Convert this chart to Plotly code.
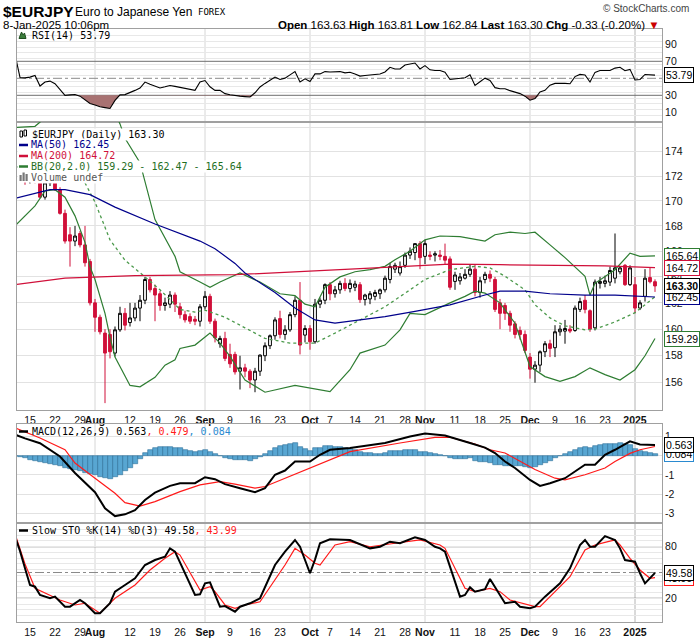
import math
import pandas as pd
import plotly.graph_objects as go
from plotly.subplots import make_subplots

# ---------------- calendar (FX weekdays, Dec-25 / Jan-1 closed); day 0 = 2024-07-11
cal = [d for d in pd.bdate_range("2024-07-10", "2025-01-08")
       if d.strftime("%m-%d") not in ("12-25", "01-01")]
day_num = {d.strftime("%Y-%m-%d"): i - 1 for i, d in enumerate(cal)}

tick_dates = ["2024-07-15", "2024-07-22", "2024-07-29", "2024-08-01", "2024-08-12", "2024-08-19",
              "2024-08-26", "2024-09-02", "2024-09-09", "2024-09-16", "2024-09-23", "2024-10-01",
              "2024-10-07", "2024-10-14", "2024-10-21", "2024-10-28", "2024-11-01", "2024-11-11",
              "2024-11-18", "2024-11-25", "2024-12-02", "2024-12-09", "2024-12-16", "2024-12-23",
              "2025-01-02"]
tick_labels = ["15", "22", "29", "Aug", "12", "19", "26", "Sep", "9", "16", "23", "Oct", "7", "14",
               "21", "28", "Nov", "11", "18", "25", "Dec", "9", "16", "23", "2025"]
month_dates = ["2024-08-01", "2024-09-02", "2024-10-01", "2024-11-01", "2024-12-02", "2025-01-02"]

# ---------------- daily candles (2024-07-11 .. 2025-01-08)
opens = [173.6, 172.4, 171.8, 172.1, 171.5, 170.3, 171.45, 171.5, 170.9, 169.0,
         167.3, 166.8, 167.4, 166.5, 165.2, 162.0, 160.9, 159.7, 159.6, 158.2,
         159.95, 161.2, 160.5, 160.85, 161.6, 162.2, 163.8, 163.1, 162.7, 161.8,
         161.9, 162.6, 161.7, 161.1, 160.95, 160.75, 160.6, 161.7, 162.5, 160.6,
         158.9, 159.3, 158.1, 158.1, 156.85, 157.1, 156.85, 156.2, 156.85, 158.0,
         158.75, 159.5, 160.8, 159.6, 159.95, 161.1, 162.2, 159.55, 160.05, 159.05,
         161.9, 162.2, 163.4, 162.7, 163.0, 163.5, 163.1, 163.2, 163.4, 162.25,
         162.3, 162.5, 162.7, 163.0, 163.8, 164.6, 164.3, 164.9, 165.7, 165.9,
         166.6, 165.6, 165.7, 165.7, 165.7, 165.6, 165.4, 163.65, 163.7, 163.9,
         164.2, 164.6, 162.8, 163.8, 164.2, 163.8, 162.0, 161.8, 161.2, 160.4,
         159.9, 159.6, 157.9, 157.0, 157.3, 158.3, 158.9, 158.6, 159.8, 159.85,
         160.0, 159.9, 161.5, 162.2, 161.4, 160.1, 163.5, 163.5, 163.6, 163.9,
         164.4, 164.9, 163.4, 163.4, 161.6, 162.5, 163.95, 163.63]
highs = [174.6, 172.8, 172.4, 172.5, 171.9, 171.8, 171.9, 171.8, 171.1, 169.3,
         167.9, 168.0, 167.6, 168.0, 165.4, 162.3, 161.1, 160.0, 160.0, 160.2,
         161.7, 161.6, 162.0, 162.0, 162.6, 164.0, 164.0, 163.4, 162.9, 162.4,
         162.9, 162.8, 162.0, 161.4, 161.2, 161.0, 161.9, 162.9, 162.7, 160.8,
         159.5, 159.8, 158.9, 158.3, 158.0, 157.4, 157.0, 157.1, 158.1, 159.0,
         159.6, 160.9, 161.4, 160.3, 161.3, 162.5, 163.6, 160.3, 160.3, 162.3,
         162.4, 163.5, 163.6, 163.3, 163.7, 163.9, 163.8, 163.7, 163.6, 162.7,
         162.9, 163.0, 163.1, 164.1, 165.1, 165.1, 165.2, 165.9, 166.3, 166.6,
         166.8, 166.9, 166.0, 166.0, 166.1, 166.6, 165.6, 164.4, 164.3, 164.6,
         165.0, 165.0, 164.0, 164.4, 164.5, 164.0, 162.3, 162.0, 161.4, 160.6,
         160.2, 159.9, 158.2, 157.6, 158.4, 159.1, 159.2, 160.3, 160.3, 160.7,
         160.3, 161.8, 162.4, 162.6, 161.5, 163.8, 164.0, 164.1, 164.8, 167.4,
         164.8, 165.0, 164.9, 164.0, 162.2, 164.6, 164.7, 163.81]
lows = [172.0, 171.3, 171.4, 171.4, 170.2, 170.1, 171.2, 170.8, 168.9, 166.6,
        164.8, 166.4, 166.3, 164.8, 161.8, 159.8, 159.6, 154.5, 157.8, 157.95,
        159.8, 159.9, 160.2, 160.6, 160.6, 161.9, 162.8, 160.6, 161.4, 161.4,
        161.6, 161.3, 160.8, 160.5, 160.4, 160.3, 160.2, 161.5, 160.4, 159.0,
        158.6, 157.6, 157.1, 156.6, 155.5, 156.4, 155.6, 155.3, 156.5, 157.6,
        158.5, 159.2, 159.3, 159.2, 159.8, 160.9, 158.1, 159.0, 158.45, 158.9,
        161.6, 161.9, 162.2, 162.4, 162.7, 162.9, 162.8, 162.9, 162.0, 161.8,
        161.9, 162.2, 162.3, 162.8, 163.5, 164.3, 164.1, 164.7, 165.4, 165.3,
        164.6, 165.0, 165.3, 165.2, 165.3, 165.0, 163.0, 163.0, 163.4, 163.8,
        164.0, 162.5, 162.4, 163.5, 163.6, 161.3, 160.0, 160.7, 159.8, 159.3,
        159.2, 158.2, 156.3, 156.0, 156.8, 157.9, 157.9, 157.9, 159.5, 158.9,
        159.7, 159.8, 161.3, 161.2, 159.8, 159.9, 163.1, 163.2, 163.3, 163.5,
        164.2, 163.3, 163.3, 161.2, 161.45, 162.1, 163.5, 162.84]
closes = [172.4, 171.8, 172.1, 171.6, 170.3, 171.45, 171.7, 170.9, 169.0, 166.8,
          166.8, 167.2, 166.5, 165.1, 162.0, 160.9, 159.8, 158.2, 158.3, 159.95,
          161.2, 160.3, 160.85, 161.6, 162.2, 163.8, 163.0, 162.6, 161.8, 162.0,
          162.6, 161.9, 161.1, 160.7, 160.6, 160.6, 161.7, 162.5, 160.6, 159.35,
          159.3, 157.8, 157.4, 156.8, 157.1, 156.85, 156.2, 156.85, 158.05, 158.75,
          159.5, 160.7, 159.6, 159.95, 161.1, 162.2, 158.8, 160.05, 159.05, 161.9,
          162.2, 163.4, 162.7, 163.0, 163.5, 163.1, 163.5, 163.45, 162.25, 162.6,
          162.7, 162.8, 163.0, 163.9, 164.8, 164.9, 164.8, 165.7, 166.0, 166.6,
          165.5, 166.6, 165.6, 165.8, 165.6, 165.3, 163.2, 164.15, 164.0, 164.2,
          164.6, 162.8, 163.7, 164.2, 163.9, 161.5, 161.2, 161.2, 160.3, 159.6,
          159.6, 158.4, 157.0, 157.3, 158.3, 158.9, 158.55, 159.8, 160.0, 160.05,
          159.85, 161.6, 162.1, 161.5, 160.0, 163.6, 163.65, 163.7, 164.5, 164.7,
          164.7, 163.4, 164.7, 161.6, 162.0, 163.9, 163.63, 163.30]
candle_days = list(range(len(opens)))

# ---------------- price overlays (sampled, day number -> value)
ma50_day = [-1, 6, 9, 14, 19, 27, 36, 39, 43, 45, 51, 55, 59, 63, 68, 73, 79, 86, 93, 96, 101, 106, 113, 119, 127]
ma50_val = [170.2, 170.9, 170.9, 170.5, 169.5, 168.15, 166.8, 166.2, 165.05, 164.3, 162.8, 161.6, 160.7,
            160.45, 160.7, 160.95, 161.35, 161.85, 162.6, 162.9, 162.9, 162.7, 162.6, 162.6, 162.45]
ma200_day = [-1, 9, 23, 43, 66, 76, 86, 96, 106, 117, 127]
ma200_val = [163.4, 163.9, 164.1, 164.17, 164.6, 164.8, 165.0, 164.95, 164.9, 164.85, 164.72]
bbu_day = [-1, 3, 5, 10, 15, 19, 20, 21, 24, 27, 31, 32, 36, 38, 40, 44, 48, 52, 55, 57, 59, 61, 64, 67, 70,
           73, 75, 78, 81, 84, 88, 93, 95, 98, 101, 103, 106, 109, 113, 114, 115, 119, 122, 124, 127]
bbu_val = [176.0, 176.1, 176.8, 178.5, 178.6, 177.2, 176.3, 175.1, 173.1, 168.5, 165.6, 164.4, 163.6, 163.2,
           163.6, 164.3, 163.6, 162.7, 162.55, 161.9, 161.7, 163.2, 164.0, 164.4, 164.56, 164.82, 165.34,
           166.0, 166.9, 167.2, 167.15, 166.8, 167.3, 167.5, 167.4, 167.5, 166.5, 165.5, 164.05, 162.6,
           163.5, 164.56, 165.85, 165.6, 165.64]
bbm_day = [-1, 5, 13, 15, 18, 21, 25, 28, 32, 35, 37, 41, 45, 49, 54, 59, 63, 68, 73, 78, 81, 86, 91, 94,
           97, 101, 103, 106, 109, 113, 115, 119, 123, 127]
bbm_val = [172.8, 172.1, 171.45, 169.9, 166.9, 165.3, 164.0, 163.0, 161.5, 161.3, 161.45, 160.9, 160.1,
           159.3, 158.95, 158.95, 159.7, 160.7, 161.7, 163.0, 163.8, 164.56, 164.82, 164.7, 164.05, 163.0,
           161.85, 160.85, 160.25, 159.95, 160.0, 160.55, 161.25, 162.47]
bbl_day = [-1, 3, 5, 7, 9, 11, 13, 14, 15, 17, 18, 19, 22, 24, 27, 29, 31, 32, 35, 38, 40, 42, 45, 49, 55,
           62, 66, 68, 73, 76, 78, 81, 86, 89, 91, 93, 96, 99, 102, 105, 108, 111, 114, 117, 120, 123, 125, 127]
bbl_val = [168.0, 169.6, 170.8, 170.9, 170.3, 168.8, 166.7, 164.8, 163.8, 161.2, 159.4, 157.9, 155.8, 155.7,
           156.4, 157.3, 157.7, 158.55, 158.8, 159.7, 158.95, 157.95, 156.2, 155.3, 155.8, 155.35, 156.96,
           158.2, 158.8, 159.95, 161.2, 161.1, 162.0, 162.5, 162.9, 162.75, 162.0, 160.45, 157.2, 156.45,
           156.1, 156.45, 157.1, 156.6, 156.2, 156.96, 158.0, 159.29]

# ---------------- RSI(14), daily from day -1
rsi_val = [78, 51, 50.5, 51.4, 53.3, 40.9, 45.6, 46.7, 43.6, 37, 30.0, 30.5, 31, 29, 25, 20.3, 18.5, 16.5,
           15.5, 14.5, 24, 30.5, 30.8, 33, 35.8, 38.6, 45.6, 43, 41, 38.6, 40, 41.6, 40.5, 39.5, 38.5, 37.5,
           35.8, 45.6, 47.4, 40, 35.8, 35.8, 32, 30.7, 29.5, 29, 28.5, 28.1, 33, 39.8, 44, 48, 51.4, 48.6,
           50.2, 54, 57.9, 45.6, 49.4, 46.3, 55.2, 55.2, 57.9, 57.4, 57.5, 57.9, 56.4, 57.2, 55, 52.6, 53.3,
           54.1, 54.6, 55, 57.5, 63, 61, 61, 65.7, 67, 68, 61, 64.9, 60, 59.1, 59.1, 57.2, 48.6, 49.5, 50.2,
           50.6, 54.1, 41.6, 46, 50.2, 47.4, 39, 37.8, 37.8, 35.5, 33.5, 32, 29, 24.2, 26.2, 34, 35.8, 42,
           44, 44.2, 44, 43.6, 52, 54.6, 54, 45.6, 57, 59.1, 59.1, 59.1, 62, 63, 59, 60.5, 48, 48.6, 54.5,
           54, 53.79]
rsi_day = list(range(-1, len(rsi_val) - 1))

# ---------------- MACD(12,26,9)
macd_day = [-1, 1, 4, 6, 8, 11, 15, 17, 19, 21, 23, 25, 27, 30, 32, 35, 37, 39, 41, 44, 47, 49, 51, 53, 55,
            58, 60, 62, 66, 73, 78, 81, 85, 90, 93, 95, 97, 99, 102, 104, 106, 109, 110, 112, 113, 115, 117,
            119, 122, 124, 127]
macd_val = [1.1, 0.9, 0.65, 0.31, -0.04, -0.9, -1.9, -2.74, -3.14, -3.05, -2.83, -2.3, -1.92, -1.57, -1.43,
            -1.43, -1.12, -1.22, -1.48, -1.69, -1.9, -1.69, -0.99, -0.77, -0.3, -0.3, 0.05, 0.31, 0.4, 0.66,
            1.0, 1.15, 1.05, 0.66, 0.42, 0.14, -0.3, -0.64, -1.26, -1.57, -1.43, -1.17, -0.99, -0.64, -0.47,
            -0.47, 0.05, 0.31, 0.75, 0.58, 0.563]
sig_day = [-1, 4, 9, 11, 15, 19, 21, 24, 27, 32, 36, 40, 43, 47, 49, 53, 58, 63, 66, 76, 83, 86, 91, 94, 97,
           103, 107, 109, 113, 117, 119, 122, 124, 127]
sig_val = [1.45, 0.92, 0.31, -0.38, -1.17, -1.95, -2.44, -2.62, -2.39, -1.87, -1.52, -1.35, -1.48, -1.69,
           -1.6, -1.17, -0.64, -0.12, 0.21, 0.66, 0.95, 0.96, 0.6, 0.31, 0.14, -0.72, -1.17, -1.26, -0.99,
           -0.64, -0.3, 0.12, 0.31, 0.479]
hist_val = [-0.03, -0.08, -0.14, -0.2, -0.28, -0.35, -0.4, -0.42, -0.46, -0.52, -0.62, -0.7, -0.76, -0.82,
            -0.88, -0.93, -1.02, -1.1, -1.17, -1.2, -1.12, -0.98, -0.82, -0.64, -0.42, -0.18, 0.12, 0.3,
            0.42, 0.47, 0.47, 0.45, 0.42, 0.38, 0.32, 0.27, 0.2, 0.25, 0.3, 0.2, 0.08, -0.02, -0.1, -0.15,
            -0.2, -0.22, -0.24, -0.25, -0.18, -0.05, 0.1, 0.25, 0.4, 0.5, 0.55, 0.6, 0.65, 0.45, 0.35, 0.25,
            0.38, 0.42, 0.5, 0.48, 0.47, 0.46, 0.42, 0.35, 0.28, 0.2, 0.15, 0.12, 0.1, 0.1, 0.15, 0.22,
            0.22, 0.24, 0.28, 0.3, 0.28, 0.2, 0.2, 0.15, 0.1, 0.05, 0.0, -0.12, -0.15, -0.18, -0.16, -0.12,
            -0.3, -0.33, -0.33, -0.38, -0.46, -0.5, -0.52, -0.52, -0.55, -0.55, -0.6, -0.65, -0.6, -0.5,
            -0.38, -0.25, -0.12, 0.0, 0.08, 0.18, 0.28, 0.38, 0.45, 0.4, 0.5, 0.55, 0.62, 0.62, 0.62, 0.64,
            0.6, 0.55, 0.35, 0.25, 0.2, 0.12, 0.084]
hist_day = list(range(-1, len(hist_val) - 1))

# ---------------- Slow Stochastic %K(14) %D(3)
k_day = [-1, 0, 1, 2, 3, 4, 6, 7, 9, 10, 12, 13, 15, 16, 18, 19, 21, 23, 25, 27, 29, 30, 31, 33, 35, 36, 37,
         38, 40, 41, 43, 44, 46, 48, 51, 53, 55, 56, 58, 59, 60, 62, 66, 70, 72, 74, 76, 79, 81, 83, 84, 85,
         88, 89, 90, 91, 93, 94, 97, 99, 100, 102, 103, 105, 108, 110, 112, 113, 114, 115, 117, 119, 120,
         121, 123, 124, 125, 127]
k_val = [92, 75, 55, 35.5, 33.5, 23.8, 20, 21.9, 10.2, 10.2, 18, 14.2, 2.6, 2.6, 14.2, 27.7, 35.5, 43.3, 58.7,
         64.5, 68.4, 78.1, 74.2, 49.1, 23.8, 24.6, 37.4, 38.6, 10.2, 11, 4.4, 10.2, 14.2, 20, 58.7, 74.2,
         87.8, 80, 49.1, 65, 84, 88.6, 87.8, 78.1, 80, 85.8, 84, 90.9, 87.8, 80, 78.1, 74.2, 21.9, 23.8, 32.8,
         27.7, 30.5, 42.4, 14.2, 16, 10.2, 8.4, 10.2, 21.9, 37.4, 54.9, 82, 87.8, 80, 80, 92.4, 87.8, 78.1,
         64.5, 62.6, 49.1, 37.4, 49.58]
d_day = [-1, 1, 3, 6, 8, 11, 13, 16, 19, 23, 26, 29, 31, 32, 35, 36, 38, 39, 41, 43, 45, 48, 53, 55, 57, 59,
         60, 63, 66, 70, 75, 80, 84, 85, 89, 91, 94, 96, 98, 103, 104, 107, 110, 113, 115, 117, 119, 120, 122,
         124, 126, 127]
d_val = [95, 60, 31.6, 23.8, 18, 12.2, 14.2, 2.6, 20, 35.5, 52.9, 66.5, 74.2, 70.3, 39.3, 29.7, 33.5, 27.7,
         12.2, 8.4, 12.2, 16, 58.7, 78.1, 70.3, 60.7, 58.7, 82, 86, 80, 84, 88, 82, 78.1, 31.6, 27.7, 31.6,
         27.7, 18, 10.2, 10.2, 27.7, 45.1, 76.2, 82, 85, 88, 82, 66.5, 52.9, 43.3, 43.99]

# ---------------- layout geometry (pixels)
W, H = 700, 639
ML, MR = 17, 38
PW = W - ML - MR


def px(x):
    return (x - ML) / PW


def py(y):
    return 1 - y / H


P_RSI = (29, 121.5)
P_MAIN = (121.5, 410)
P_MACD = (424, 523)
P_STO = (523, 622)

RED = "#d0103a"
NAVY = "#00008b"
GREEN = "#2e7d32"
GRID = "#e2e2e2"
AXL = "#a0a0a0"
FONT = "Liberation Sans"
MONO = "DejaVu Sans Mono"

fig = make_subplots(rows=4, cols=1, shared_xaxes=True, vertical_spacing=0.01)

# RSI
fig.add_trace(go.Scatter(x=rsi_day, y=[30] * len(rsi_day), mode="lines",
                         line=dict(width=0, color="rgba(0,0,0,0)"), hoverinfo="skip"), row=1, col=1)
fig.add_trace(go.Scatter(x=rsi_day, y=[min(v, 30) for v in rsi_val], mode="lines", line=dict(width=0),
                         fill="tonexty", fillcolor="#a87272", hoverinfo="skip"), row=1, col=1)
fig.add_trace(go.Scatter(x=rsi_day, y=rsi_val, mode="lines", line=dict(color="black", width=1.1)),
              row=1, col=1)

# Main
fig.add_trace(go.Candlestick(x=candle_days, open=opens, high=highs, low=lows, close=closes,
                             increasing=dict(line=dict(color="black", width=1), fillcolor="white"),
                             decreasing=dict(line=dict(color=RED, width=1), fillcolor=RED),
                             whiskerwidth=0, hoverinfo="skip"), row=2, col=1)
fig.add_trace(go.Scatter(x=bbu_day, y=bbu_val, mode="lines", line=dict(color=GREEN, width=1.2)), row=2, col=1)
fig.add_trace(go.Scatter(x=bbl_day, y=bbl_val, mode="lines", line=dict(color=GREEN, width=1.2)), row=2, col=1)
fig.add_trace(go.Scatter(x=bbm_day, y=bbm_val, mode="lines", line=dict(color="#4c9a4c", width=1.3, dash="dot")),
              row=2, col=1)
fig.add_trace(go.Scatter(x=ma200_day, y=ma200_val, mode="lines", line=dict(color=RED, width=1.2)), row=2, col=1)
fig.add_trace(go.Scatter(x=ma50_day, y=ma50_val, mode="lines", line=dict(color=NAVY, width=1.2)), row=2, col=1)

# MACD
fig.add_trace(go.Bar(x=hist_day, y=hist_val, width=1, marker=dict(color="#58a6d2",
                     line=dict(color="#2c6e98", width=0.6)), hoverinfo="skip"), row=3, col=1)
fig.add_trace(go.Scatter(x=sig_day, y=sig_val, mode="lines", line=dict(color="#ff1a1a", width=1.2)), row=3, col=1)
fig.add_trace(go.Scatter(x=macd_day, y=macd_val, mode="lines", line=dict(color="black", width=2)), row=3, col=1)

# STO
fig.add_trace(go.Scatter(x=d_day, y=d_val, mode="lines", line=dict(color="#ff1a1a", width=1.2)), row=4, col=1)
fig.add_trace(go.Scatter(x=k_day, y=k_val, mode="lines", line=dict(color="black", width=2)), row=4, col=1)

tick_x = [day_num[d] for d in tick_dates]
tick_t = [("<b>%s</b>" % t) if not t.isdigit() or len(t) == 4 else t for t in tick_labels]

xcommon = dict(range=[-0.6, 128.4], showgrid=False, zeroline=False, showline=True, mirror=True,
               linecolor=AXL, tickvals=tick_x, ticktext=tick_t, rangeslider=dict(visible=False),
               tickangle=0, ticks="", ticklen=0, tickfont=dict(family=FONT, size=10.5, color="#111"))
for i in range(1, 5):
    key = "xaxis" if i == 1 else "xaxis%d" % i
    fig.layout[key].update(**xcommon, showticklabels=i in (2, 4))

ycommon = dict(side="right", showline=True, mirror=True, linecolor=AXL, zeroline=False,
               gridcolor=GRID, ticks="", ticklen=0, tickfont=dict(family=FONT, size=10.5, color="#111"))
minor15 = [k * 100 / 15 for k in range(16)]

fig.update_layout(
    yaxis=dict(**ycommon, domain=[py(P_RSI[1]), py(P_RSI[0])], range=[-0.8, 108],
               tickvals=[10, 30, 50, 70, 90], showgrid=False,
               minor=dict(tickvals=minor15, showgrid=True, gridcolor="#e8e8e8", ticks="")),
    yaxis2=dict(**ycommon, domain=[py(P_MAIN[1]), py(P_MAIN[0])], type="log",
                range=[math.log10(154.0), math.log10(176.5)],
                tickvals=list(range(156, 178, 2)),
                ticktext=[str(v) if v < 176 else "" for v in range(156, 178, 2)], showgrid=True),
    yaxis3=dict(**ycommon, domain=[py(P_MACD[1]), py(P_MACD[0])], range=[-3.5, 1.65],
                tickvals=[-3, -2, -1, 0, 1], ticktext=["-3", "-2", "-1", "0", "1"], showgrid=True),
    yaxis4=dict(**ycommon, domain=[py(P_STO[1]), py(P_STO[0])], range=[-7.6, 107.6],
                tickvals=[20, 50, 80], showgrid=False,
                minor=dict(tickvals=minor15, showgrid=True, gridcolor="#e8e8e8", ticks="")),
)

shapes = []
# month separators
for i in range(1, 5):
    xr = "x" if i == 1 else "x%d" % i
    yr = "y" if i == 1 else "y%d" % i
    for md in month_dates:
        col = "#b4b4b4" if md.startswith("2025") else "#d6d6d6"
        shapes.append(dict(type="line", xref=xr, yref=yr + " domain", x0=day_num[md], x1=day_num[md],
                           y0=0, y1=1, line=dict(color=col, width=1), layer="below"))
# oscillator levels
for yr, lv in (("y", (70, 30, 50)), ("y4", (80, 20, 50))):
    for j, v in enumerate(lv):
        shapes.append(dict(type="line", xref="x domain" if yr == "y" else "x4 domain", yref=yr,
                           x0=0, x1=1, y0=v, y1=v, layer="below",
                           line=dict(color="#6e6e6e" if j < 2 else "#8a8a8a", width=1,
                                     dash="solid" if j < 2 else "dashdot")))
# highlight of last candle
last = len(opens) - 1
shapes.append(dict(type="rect", xref="x2", yref="y2", x0=last - 0.55, x1=last + 0.55,
                   y0=math.log10(lows[last] - 0.05), y1=math.log10(highs[last] + 0.1),
                   fillcolor="#ffff70", line=dict(width=0), layer="below"))
# white backing of the price-panel legend (hides marks behind it)
shapes.append(dict(type="rect", xref="paper", yref="paper", x0=px(17.6), x1=px(31), y0=py(182.5), y1=py(128.5),
                   fillcolor="white", line=dict(width=0)))

ann = []


def text(x, y, s, size=11, color="#111", family=FONT, anchor="left", bg=None):
    d = dict(xref="paper", yref="paper", x=px(x), y=py(y), text=s, showarrow=False, xanchor=anchor,
             yanchor="middle", font=dict(family=family, size=size, color=color), borderpad=0)
    if bg:
        d["bgcolor"] = bg
    ann.append(d)


# header
chg = closes[-1] - closes[-2]
text(2, 11, "<b>$EURJPY</b>", size=15.5, color="black")
text(74, 12, "Euro to Japanese Yen", size=12, color="black")
text(197, 12.5, "FOREX", size=9, color="black", family=MONO)
text(2, 25, "8-Jan-2025 10:06pm", size=11.5, color="black")
text(661, 25, "<b>Open</b> %.2f <b>High</b> %.2f <b>Low</b> %.2f <b>Last</b> %.2f <b>Chg</b> %.2f (%.2f%%) "
     "<span style='color:#cc0000'>▼</span>" % (opens[-1], highs[-1], lows[-1], closes[-1], chg,
                                              100 * chg / closes[-2]),
     size=11.5, color="black", anchor="right")
text(690, 9, "© StockCharts.com", size=10, color="#444", anchor="right")

# panel legends
text(31, 35, "RSI(14) %.2f" % rsi_val[-1], size=10, family=MONO, color="black")
text(31, 134, "$EURJPY (Daily) %.2f" % closes[-1], size=10, family=MONO, color="black", bg="white")
text(30, 145, "MA(50) %.2f" % ma50_val[-1], size=10, family=MONO, color=NAVY, bg="white")
text(30, 156, "MA(200) %.2f" % ma200_val[-1], size=10, family=MONO, color=RED, bg="white")
text(30, 166.5, "BB(20,2.0) %.2f - %.2f - %.2f" % (bbl_val[-1], bbm_val[-1], bbu_val[-1]), size=10,
     family=MONO, color="#1f6f1f", bg="white")
text(30, 177, "Volume undef", size=10, family=MONO, color="#555", bg="white")
text(31, 431.5, "MACD(12,26,9) %.3f<span style='color:#ff1a1a'>, %.3f</span>"
     "<span style='color:#2a8ad0'>, %.3f</span>" % (macd_val[-1], sig_val[-1], hist_val[-1]),
     size=10, family=MONO, color="black")
text(31, 530.5, "Slow STO %%K(14) %%D(3) %.2f<span style='color:#ff1a1a'>, %.2f</span>" % (k_val[-1], d_val[-1]),
     size=10, family=MONO, color="black")

# legend marker dashes
for yy, col in ((145, NAVY), (156, RED), (166.5, GREEN), (431.5, "black"), (530.5, "black")):
    shapes.append(dict(type="line", xref="paper", yref="paper", x0=px(19), x1=px(28), y0=py(yy), y1=py(yy),
                       line=dict(color=col, width=2.5)))
# small icons: RSI mountain, candle glyph, volume bars
shapes.append(dict(type="path", xref="paper", yref="paper",
                   path="M %f %f L %f %f L %f %f L %f %f L %f %f Z" % (px(19), py(38.5), px(21.5), py(32),
                                                                     px(23), py(35), px(24.5), py(33),
                                                                     px(26), py(38.5)),
                   fillcolor="#3b7d3b", line=dict(color="#1e4e1e", width=1)))
for x0, y0, y1 in ((20, 131, 137), (24, 130, 136)):
    shapes.append(dict(type="rect", xref="paper", yref="paper", x0=px(x0), x1=px(x0 + 2.5), y0=py(y1), y1=py(y0),
                       fillcolor="white", line=dict(color="black", width=1)))
for x0, y0 in ((19.5, 175), (22.5, 172.5), (25.5, 174)):
    shapes.append(dict(type="rect", xref="paper", yref="paper", x0=px(x0), x1=px(x0 + 2.2), y0=py(181),
                       y1=py(y0), fillcolor="#777", line=dict(width=0)))


def tag(yref, val, s, border, bold=False):
    yv = math.log10(val) if yref == "y2" else val
    ann.append(dict(xref="paper", yref=yref, x=px(664), y=yv, text=("<b>%s</b>" % s) if bold else s,
                    showarrow=False, xanchor="left", yanchor="middle",
                    font=dict(family=FONT, size=10.5, color="black"), bgcolor="white",
                    bordercolor=border, borderwidth=1, borderpad=1))


tag("y", rsi_val[-1], "%.2f" % rsi_val[-1], "black")
tag("y2", bbl_val[-1], "%.2f" % bbl_val[-1], GREEN)
tag("y2", ma50_val[-1], "%.2f" % ma50_val[-1], NAVY)
tag("y2", bbu_val[-1], "%.2f" % bbu_val[-1], GREEN)
tag("y2", ma200_val[-1], "%.2f" % ma200_val[-1], RED)
tag("y2", closes[-1], "%.2f" % closes[-1], "black", bold=True)
tag("y3", hist_val[-1], "%.3f" % hist_val[-1], "#2a8ad0")
tag("y3", macd_val[-1], "%.3f" % macd_val[-1], "black")
tag("y4", d_val[-1], "%.2f" % d_val[-1], "#ff1a1a")
tag("y4", k_val[-1], "%.2f" % k_val[-1], "black")

fig.update_layout(width=W, height=H, margin=dict(l=ML, r=MR, t=0, b=0), paper_bgcolor="white",
                  plot_bgcolor="white", showlegend=False, boxgap=0.2, bargap=0, barmode="overlay",
                  shapes=shapes, annotations=ann, hovermode=False,
                  font=dict(family=FONT, size=11, color="#111"))

fig.write_html("out.html", config={"displayModeBar": False},
               post_script="document.body.style.margin='0';document.body.style.padding='0';")
